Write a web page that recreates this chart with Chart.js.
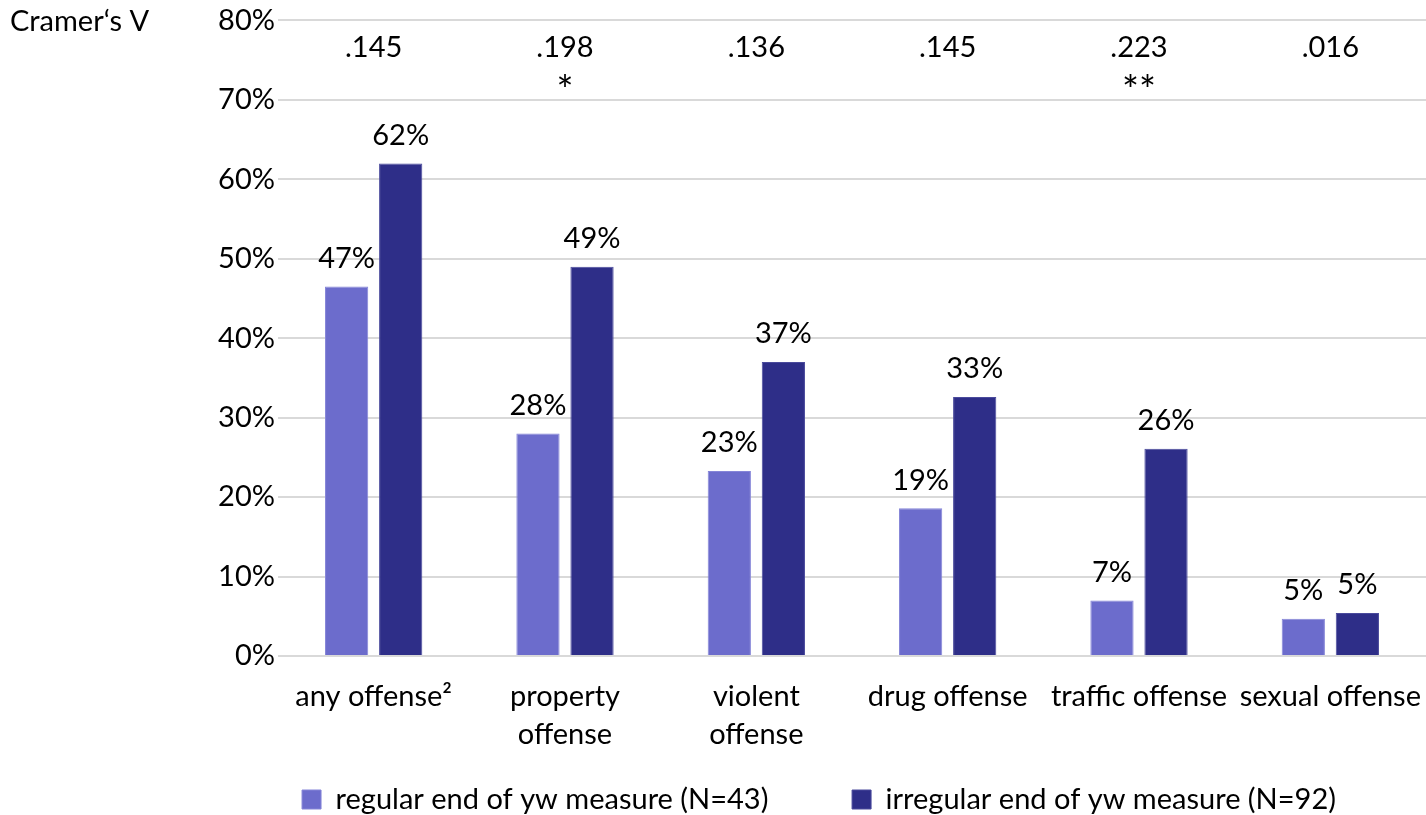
<!DOCTYPE html>
<html>
<head>
<meta charset="utf-8">
<script src="https://cdn.jsdelivr.net/npm/chart.js@4.4.1/dist/chart.umd.min.js"></script>
<style>
  html, body { margin: 0; padding: 0; background: #fff; }
  #wrap { width: 1426px; height: 815px; }
</style>
</head>
<body>
<div id="wrap"><canvas id="offenseChart"></canvas></div>
<script>
const categories = [
  'any offense\u00b2',
  ['property', 'offense'],
  ['violent', 'offense'],
  'drug offense',
  'traffic offense',
  'sexual offense'
];
const regularValues = [46.5, 28.0, 23.3, 18.6, 7.0, 4.7];
const irregularValues = [62.0, 49.0, 37.0, 32.6, 26.1, 5.4];
const cramersV = ['.145', '.198', '.136', '.145', '.223', '.016'];
const significance = ['', '*', '', '', '**', ''];
const yTicks = [0, 10, 20, 30, 40, 50, 60, 70, 80];

const FONT = 'Lato, "Open Sans", sans-serif';
const SIZE = 29;
Chart.defaults.color = '#000';
Chart.defaults.font.family = FONT;
Chart.defaults.font.size = SIZE;

// value labels above each bar
const barLabels = {
  id: 'barLabels',
  afterDatasetsDraw(chart) {
    const ctx = chart.ctx;
    ctx.save();
    ctx.font = SIZE + 'px ' + FONT;
    ctx.fillStyle = '#000';
    ctx.textAlign = 'center';
    ctx.textBaseline = 'middle';
    chart.data.datasets.forEach((ds, i) => {
      chart.getDatasetMeta(i).data.forEach((bar, j) => {
        ctx.fillText(Math.round(ds.data[j]) + '%', bar.x, bar.y - 28);
      });
    });
    ctx.restore();
  }
};

// Cramer's V row at the top
const cramerRow = {
  id: 'cramerRow',
  afterDraw(chart) {
    const ctx = chart.ctx;
    const x = chart.scales.x;
    const top = chart.scales.y.getPixelForValue(80);
    ctx.save();
    ctx.fillStyle = '#000';
    ctx.textBaseline = 'middle';
    ctx.font = SIZE + 'px ' + FONT;
    ctx.textAlign = 'left';
    ctx.fillText('Cramer\u2018s V', 10, top + 1);
    ctx.textAlign = 'center';
    cramersV.forEach((v, i) => {
      const cx = x.getPixelForValue(i);
      ctx.font = SIZE + 'px ' + FONT;
      ctx.fillText(v, cx, top + 27);
      if (significance[i]) {
        ctx.font = '40px ' + FONT;
        ctx.fillText(significance[i], cx, top + 72);
      }
    });
    ctx.restore();
  }
};

// nudge legend to where it sits in the original
const legendShift = {
  id: 'legendShift',
  afterLayout(chart) {
    chart.legend.left += 106;
    chart.legend.right += 106;
    chart.legend.top += 9;
    chart.legend.bottom += 9;
  }
};

new Chart('offenseChart', {
  type: 'bar',
  data: {
    labels: categories,
    datasets: [
      {
        label: 'regular end of yw measure (N=43)',
        data: regularValues,
        backgroundColor: '#6c6ccc',
        borderColor: '#8585d8',
        borderWidth: 1,
        categoryPercentage: 0.565,
        barPercentage: 0.8
      },
      {
        label: 'irregular end of yw measure (N=92)',
        data: irregularValues,
        backgroundColor: '#2e2e88',
        borderColor: '#4a4a9c',
        borderWidth: 1,
        categoryPercentage: 0.565,
        barPercentage: 0.8
      }
    ]
  },
  options: {
    responsive: true,
    maintainAspectRatio: false,
    animation: false,
    layout: { padding: { top: 12, right: 0, bottom: 0, left: 0 } },
    plugins: {
      legend: {
        position: 'bottom',
        labels: {
          boxWidth: 19,
          boxHeight: 19,
          padding: 2,
          font: { size: SIZE, lineHeight: 1 },
          generateLabels(chart) {
            const items = Chart.defaults.plugins.legend.labels.generateLabels(chart);
            items[0].text += '           ';
            return items;
          }
        }
      },
      tooltip: { enabled: false }
    },
    scales: {
      x: {
        grid: { display: false },
        border: { display: false },
        afterFit(scale) {
          scale.height = 118;
          scale.paddingLeft = 0;
          scale.paddingRight = 0;
        },
        ticks: { maxRotation: 0, padding: 14, font: { size: SIZE, lineHeight: 1.3 } }
      },
      y: {
        min: 0,
        max: 80,
        afterFit(scale) { scale.width = 278; },
        afterBuildTicks(scale) { scale.ticks = yTicks.map(v => ({ value: v })); },
        grid: { color: '#d9d9d9', lineWidth: 2, drawTicks: false },
        border: { display: false },
        ticks: { padding: 3, font: { size: SIZE }, callback: v => v + '%' }
      }
    }
  },
  plugins: [barLabels, cramerRow, legendShift]
});
</script>
</body>
</html>
